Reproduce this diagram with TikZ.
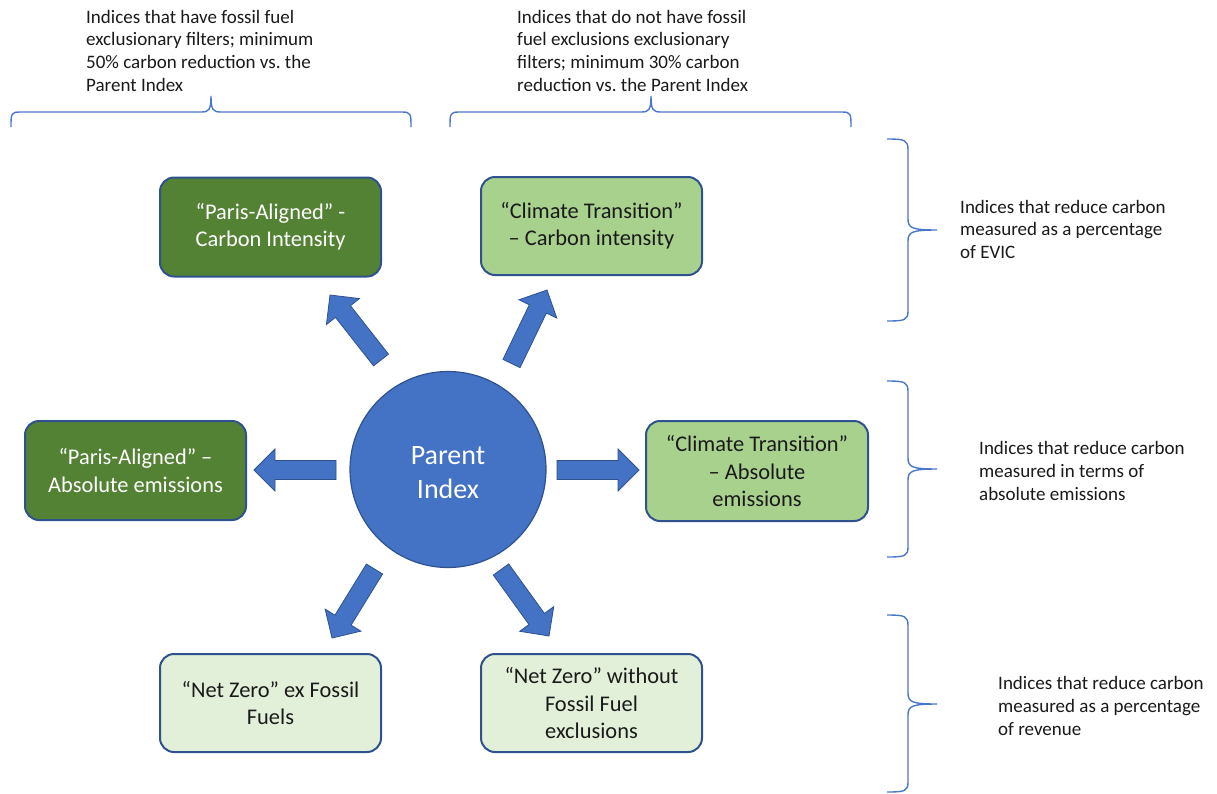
\documentclass[tikz,border=0pt]{standalone}
\usepackage{fontspec}
\setmainfont{Carlito}
\usetikzlibrary{calc}
\frenchspacing
\definecolor{darkgreen}{HTML}{548235}
\definecolor{lightgreen}{HTML}{A9D18E}
\definecolor{palegreen}{HTML}{E2F0D9}
\definecolor{accentblue}{HTML}{4472C4}
\definecolor{edgeblue}{HTML}{2F528F}
\definecolor{bracecol}{HTML}{4A78C8}
\definecolor{txt}{HTML}{1A1A1A}
\tikzset{
  idxbox/.style={draw=edgeblue, line width=2pt, rounded corners=14pt, align=center,
     inner sep=0pt, font=\fontsize{22.4}{27.4}\selectfont},
  darkbox/.style={idxbox, fill=darkgreen, text=white},
  lightbox/.style={idxbox, fill=lightgreen, text=txt},
  paleBox/.style={idxbox, fill=palegreen, text=txt},
  note/.style={align=left, inner sep=0pt, anchor=north west, text=txt,
     font=\fontsize{19}{22.8}\selectfont\frenchspacing},
  blockarr/.style={fill=accentblue, draw=edgeblue, line width=0.8pt, line join=miter},
  bracepath/.style={draw=bracecol, line width=1.4pt}
}
\newcommand\blkarrow[2]{%
  \coordinate (hb-#2) at ($(#2)!21pt!(#1)$);
  \draw[blockarr] ($(#1)!9.5pt!90:(#2)$) -- ($(hb-#2)!9.5pt!90:(#2)$) -- ($(hb-#2)!21pt!90:(#2)$)
     -- (#2) -- ($(hb-#2)!21pt!-90:(#2)$) -- ($(hb-#2)!9.5pt!-90:(#2)$) -- ($(#1)!9.5pt!-90:(#2)$) -- cycle;
}
\begin{document}
\begin{tikzpicture}[x=1pt,y=-1pt]
\useasboundingbox (0,0) rectangle (1217,793);
\fill[white] (0,0) rectangle (1217,793);

% boxes
\node[darkbox, minimum width=221pt, minimum height=99pt] (pa1) at (270.5,227) {“Paris-Aligned” -\\Carbon Intensity};
\node[lightbox, minimum width=221pt, minimum height=98pt] (ct1) at (591.5,226) {“Climate Transition”\\– Carbon intensity};
\node[darkbox, minimum width=221pt, minimum height=99pt] (pa2) at (135.5,470.5) {“Paris-Aligned” –\\Absolute emissions};
\node[lightbox, minimum width=222pt, minimum height=100pt] (ct2) at (757,471) {“Climate Transition”\\– Absolute\\emissions};
\node[paleBox, minimum width=221pt, minimum height=98pt] (nz1) at (270.5,703) {“Net Zero” ex Fossil\\Fuels};
\node[paleBox, minimum width=221pt, minimum height=98pt] (nz2) at (591.5,703) {“Net Zero” without\\Fossil Fuel\\exclusions};

% parent
\node[circle, fill=accentblue, draw=edgeblue, line width=1.2pt, minimum size=196pt, inner sep=0pt,
      text=white, align=center, font=\fontsize{28}{34}\selectfont] (parent) at (448,469.5) {\rule{0pt}{24pt}Parent\\Index};

% arrows
\coordinate (ulA) at (381,360); \coordinate (ulB) at (330,295);
\coordinate (urA) at (511.5,363.5); \coordinate (urB) at (547,290);
\coordinate (lA) at (336,470); \coordinate (lB) at (254,470);
\coordinate (rA) at (557,470); \coordinate (rB) at (639,470);
\coordinate (llA) at (374.5,569); \coordinate (llB) at (332,638);
\coordinate (lrA) at (501,569.5); \coordinate (lrB) at (549,636);
\blkarrow{ulA}{ulB}
\blkarrow{urA}{urB}
\blkarrow{lA}{lB}
\blkarrow{rA}{rB}
\blkarrow{llA}{llB}
\blkarrow{lrA}{lrB}

% top notes
\node[note] (tl) at (86,9.7) {Indices that have fossil fuel\\exclusionary filters; minimum\\50\% carbon reduction vs. the\\Parent Index};
\node[note] (tr) at (517,9.7) {Indices that do not have fossil\\fuel exclusions exclusionary\\filters; minimum 30\% carbon\\reduction vs. the Parent Index};

% right notes
\node[note] (r1) at (960,199.7) {Indices that reduce carbon\\measured as a percentage\\of EVIC};
\node[note] (r2) at (979,441) {Indices that reduce carbon\\measured in terms of\\absolute emissions};
\node[note] (r3) at (998,676) {Indices that reduce carbon\\measured as a percentage\\of revenue};

% top braces
\draw[bracepath] (11,127) .. controls (11,114) and (11,112) .. (20,112) -- (201,112)
   .. controls (209,112) and (211,110) .. (211,96) .. controls (211,110) and (213,112) .. (221,112)
   -- (402,112) .. controls (411,112) and (411,114) .. (411,127);
\draw[bracepath] (450,127) .. controls (450,114) and (450,112) .. (459,112) -- (641,112)
   .. controls (649,112) and (651,110) .. (651,96) .. controls (651,110) and (653,112) .. (661,112)
   -- (842,112) .. controls (851,112) and (851,114) .. (851,127);

% right braces
\draw[bracepath] (887,139) .. controls (905,139) and (908,140) .. (908,150) -- (908,219)
   .. controls (908,228) and (912,230) .. (937,230) .. controls (912,230) and (908,232) .. (908,241)
   -- (908,311) .. controls (908,320) and (905,321) .. (887,321);
\draw[bracepath] (887,381) .. controls (905,381) and (908,382) .. (908,392) -- (908,458)
   .. controls (908,467) and (912,469) .. (937,469) .. controls (912,469) and (908,471) .. (908,480)
   -- (908,547) .. controls (908,556) and (905,557) .. (887,557);
\draw[bracepath] (887,615) .. controls (905,615) and (908,616) .. (908,626) -- (908,693)
   .. controls (908,702) and (912,704) .. (937,704) .. controls (912,704) and (908,706) .. (908,715)
   -- (908,782) .. controls (908,791) and (905,792) .. (887,792);
\end{tikzpicture}
\end{document}
